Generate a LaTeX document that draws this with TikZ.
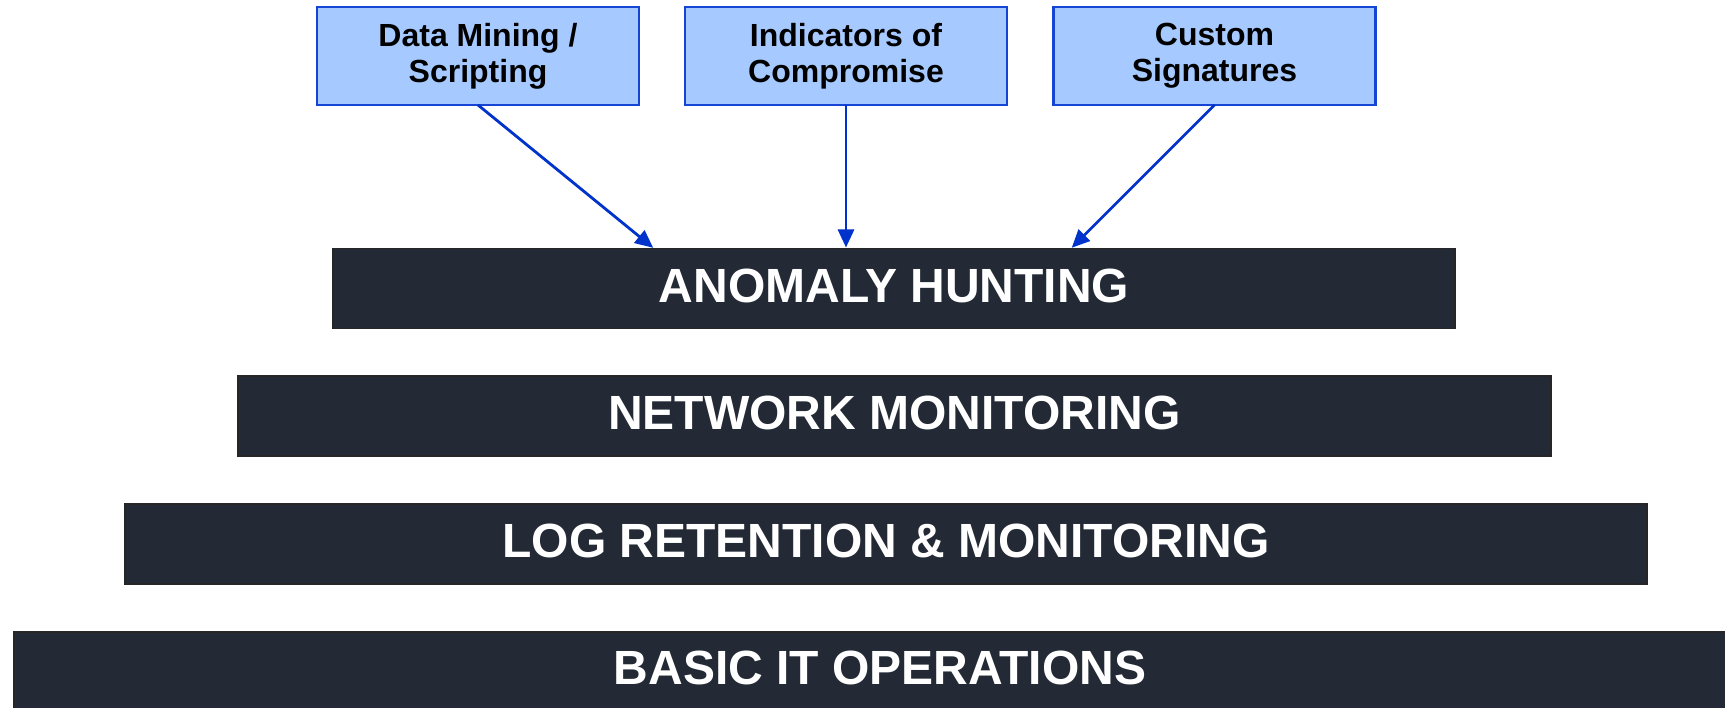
\documentclass[tikz,border=0pt]{standalone}
\usepackage{fontspec}
\setmainfont{Liberation Sans}
\usetikzlibrary{arrows.meta}
\definecolor{tipfill}{RGB}{166,202,255}
\definecolor{tipline}{RGB}{24,68,214}
\definecolor{arrowblue}{RGB}{0,51,204}
\definecolor{barfill}{RGB}{35,42,53}
\tikzset{
  tipbox/.style={draw=tipline, line width=2.4pt, fill=tipfill, align=center,
    minimum width=322pt, minimum height=98pt, inner sep=0pt, outer sep=0pt,
    font=\fontsize{32}{36}\selectfont\bfseries, text=black},
  layer/.style={draw=black!85, line width=1.6pt, fill=barfill, inner sep=0pt,
    outer sep=0pt, minimum height=80pt, text depth=6pt,
    font=\fontsize{48}{56}\selectfont\bfseries, text=white},
  feed/.style={draw=arrowblue, line width=2.8pt,
    -{Triangle[length=18pt,width=16pt]}, shorten >=1pt}
}
\begin{document}
\begin{tikzpicture}[x=1pt,y=-1pt]
\useasboundingbox (0,0) rectangle (1725,708);
\clip (0,0) rectangle (1725,708);
\fill[white] (0,0) rectangle (1725,708);

% input sources
\node[tipbox] (mining) at (478,56) {Data Mining /\\Scripting};
\node[tipbox] (ioc)    at (846,56) {Indicators of\\Compromise};
\node[tipbox] (sigs)   at (1214.5,56) {Custom\\Signatures};

% capability layers, narrowest on top
\node[layer, minimum width=1122pt] (anomaly) at (894,288.5) {ANOMALY HUNTING};
\node[layer, minimum width=1313pt] (netmon)  at (894.5,416) {NETWORK MONITORING};
\node[layer, minimum width=1522pt] (logmon)  at (886,544) {LOG RETENTION \& MONITORING};
\node[layer, minimum width=1730pt, anchor=west] (basic) at (14,672) {};
\node[font=\fontsize{48}{56}\selectfont\bfseries, text=white] (basictext) at (880,668) {BASIC IT OPERATIONS};

% feeds into anomaly hunting
\draw[feed] (mining.south) -- ([xshift=321pt]anomaly.north west);
\draw[feed] (ioc.south)    -- ([xshift=513pt]anomaly.north west);
\draw[feed] (sigs.south)   -- ([xshift=738pt]anomaly.north west);
\end{tikzpicture}
\end{document}
